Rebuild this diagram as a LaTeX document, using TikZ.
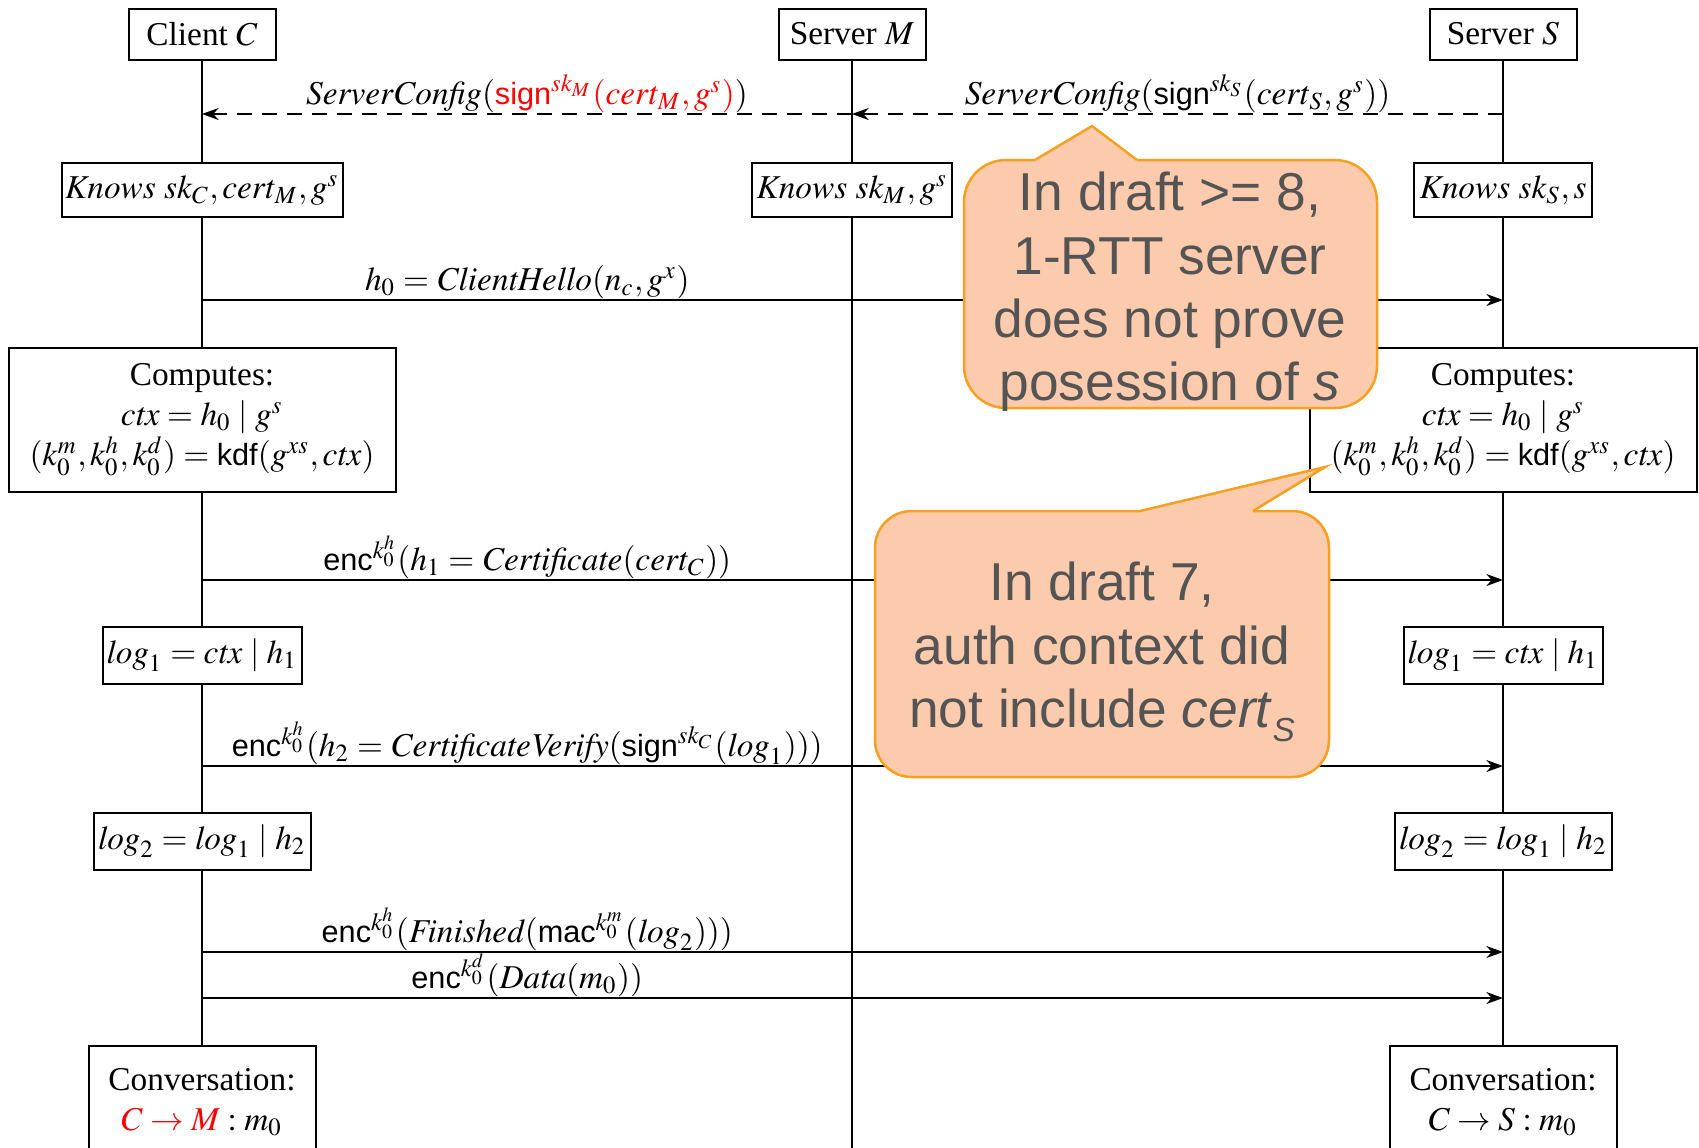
\documentclass[tikz,border=0pt]{standalone}
\usepackage{amsmath}
\usepackage{mathptmx}
\usepackage[no-math]{fontspec}
\setmainfont{Liberation Serif}
\setsansfont[Scale=0.92]{Liberation Sans}
\newfontfamily\notefont{Liberation Sans}
\usetikzlibrary{arrows.meta}

\newcommand{\fn}[1]{\textsf{#1}}

\definecolor{calloutfill}{HTML}{FCCBAD}
\definecolor{calloutline}{HTML}{F5A01E}
\definecolor{notegray}{HTML}{545454}

\tikzset{
  lifeline/.style={line width=0.5pt},
  actor/.style={draw, line width=0.6pt, fill=white, minimum width=44.1pt,
    minimum height=15.3pt, inner sep=1pt},
  state/.style={draw, line width=0.6pt, fill=white, inner sep=1pt, align=center},
  msg/.style={line width=0.55pt, -{Stealth[length=5pt,width=3.6pt,inset=1.6pt]}},
  reply/.style={msg, dash pattern=on 4.5pt off 3pt},
  lbl/.style={anchor=base, yshift=2.8pt, inner sep=0pt},
  callout/.style={draw=calloutline, fill=calloutfill, line width=0.75pt},
  notetext/.style={text=notegray, font=\notefont\fontsize{16}{19}\selectfont,
    align=center, inner sep=0pt},
}

\begin{document}
\begin{tikzpicture}[x=0.3pt,y=-0.3pt]
\path[use as bounding box, clip] (0,0) rectangle (1699,1147);

% participants
\node[actor] (hdC) at (202,34)  {Client $C$};
\node[actor] (hdM) at (852,34)  {Server $M$};
\node[actor] (hdS) at (1503,34) {Server $S$};

\coordinate (endC) at (202,1160);
\coordinate (endM) at (852,1160);
\coordinate (endS) at (1503,1160);

% lifelines
\draw[lifeline] (hdC.south) -- (endC);
\draw[lifeline] (hdM.south) -- (endM);
\draw[lifeline] (hdS.south) -- (endS);

% local state of each party
\node[state, minimum width=84.3pt, minimum height=16.2pt] (knC) at (202,190)
  {$\mathit{Knows}\ sk_C, \mathit{cert}_M, g^s$};
\node[state, minimum width=60pt, minimum height=16.2pt] (knM) at (852,190)
  {$\mathit{Knows}\ sk_M, g^s$};
\node[state, minimum width=53.4pt, minimum height=16.2pt] (knS) at (1503,190)
  {$\mathit{Knows}\ sk_S, s$};

\node[state, minimum width=116.1pt, minimum height=43.2pt] (cpC) at (202,420)
  {Computes:\\ $\mathit{ctx} = h_0 \mid g^s$\\
   $(k_0^m, k_0^h, k_0^d) = \fn{kdf}(g^{xs}, \mathit{ctx})$};
\node[state, minimum width=116.1pt, minimum height=43.2pt] (cpS) at (1503,420)
  {Computes:\\ $\mathit{ctx} = h_0 \mid g^s$\\
   $(k_0^m, k_0^h, k_0^d) = \fn{kdf}(g^{xs}, \mathit{ctx})$};

\node[state, minimum width=59.7pt, minimum height=17.1pt] (lgC1) at (202,655)
  {$\mathit{log}_1 = \mathit{ctx} \mid h_1$};
\node[state, minimum width=59.7pt, minimum height=17.1pt] (lgS1) at (1503,655)
  {$\mathit{log}_1 = \mathit{ctx} \mid h_1$};

\node[state, minimum width=65.1pt, minimum height=17.1pt] (lgC2) at (202,841)
  {$\mathit{log}_2 = \mathit{log}_1 \mid h_2$};
\node[state, minimum width=65.1pt, minimum height=17.1pt] (lgS2) at (1503,841)
  {$\mathit{log}_2 = \mathit{log}_1 \mid h_2$};

\node[state, minimum width=68.1pt, minimum height=33.6pt] (cvC) at (202,1102)
  {Conversation:\\ $\textcolor{red}{C \rightarrow M} : m_0$};
\node[state, minimum width=68.1pt, minimum height=33.6pt] (cvS) at (1503,1102)
  {Conversation:\\ $C \rightarrow S : m_0$};

% message end points on the lifelines
\coordinate (C1) at (202,114);  \coordinate (M1) at (852,114);  \coordinate (S1) at (1503,114);
\coordinate (C2) at (202,300);  \coordinate (S2) at (1503,300);
\coordinate (C3) at (202,580);  \coordinate (S3) at (1503,580);
\coordinate (C4) at (202,766);  \coordinate (S4) at (1503,766);
\coordinate (C5) at (202,952);  \coordinate (S5) at (1503,952);
\coordinate (C6) at (202,998);  \coordinate (S6) at (1503,998);

% messages
\draw[reply] (S1) -- (M1) node[lbl, pos=0.5]
  {$\mathit{ServerConfig}(\fn{sign}^{sk_S}(\mathit{cert}_S, g^s))$};
\draw[reply] (M1) -- (C1) node[lbl, pos=0.5]
  {$\mathit{ServerConfig}(\textcolor{red}{\fn{sign}^{sk_M}(\mathit{cert}_M, g^s)})$};
\draw[msg] (C2) -- (S2) node[lbl, pos=0.25]
  {$h_0 = \mathit{ClientHello}(n_c, g^x)$};
\draw[msg] (C3) -- (S3) node[lbl, pos=0.25]
  {$\fn{enc}^{k_0^h}(h_1 = \mathit{Certificate}(\mathit{cert}_C))$};
\draw[msg] (C4) -- (S4) node[lbl, pos=0.25]
  {$\fn{enc}^{k_0^h}(h_2 = \mathit{CertificateVerify}(\fn{sign}^{sk_C}(\mathit{log}_1)))$};
\draw[msg] (C5) -- (S5) node[lbl, pos=0.25]
  {$\fn{enc}^{k_0^h}(\mathit{Finished}(\fn{mac}^{k_0^m}(\mathit{log}_2)))$};
\draw[msg] (C6) -- (S6) node[lbl, pos=0.25]
  {$\fn{enc}^{k_0^d}(\mathit{Data}(m_0))$};

% first note, pointing at the ServerConfig message
\filldraw[callout, rounded corners=12.6pt] (964,160) rectangle (1377,408);
\fill[calloutfill] (1035,160) -- (1092,126) -- (1137,160) -- (1137,163.5) -- (1035,163.5) -- cycle;
\draw[calloutline, line width=0.75pt, line join=miter] (1035,160) -- (1092,126) -- (1137,160);
\node[notetext] (note1) at (1170,292)
  {In draft >= 8,\\ 1-RTT server\\ does not prove\\ posession of \textit{s}};

% second note, pointing at the server's key derivation
\filldraw[callout, rounded corners=11pt] (875,511) rectangle (1329,777);
\fill[calloutfill] (1140,511) -- (1325,467) -- (1253,511) -- (1253,514.5) -- (1140,514.5) -- cycle;
\draw[calloutline, line width=0.75pt, line join=miter] (1140,511) -- (1325,467) -- (1253,511);
\node[notetext] (note2) at (1102,652)
  {In draft 7,\\ auth context did\\ not include \textit{cert}\raisebox{-4.2pt}{\fontsize{10}{10}\selectfont\textit{S}}};
\end{tikzpicture}
\end{document}
